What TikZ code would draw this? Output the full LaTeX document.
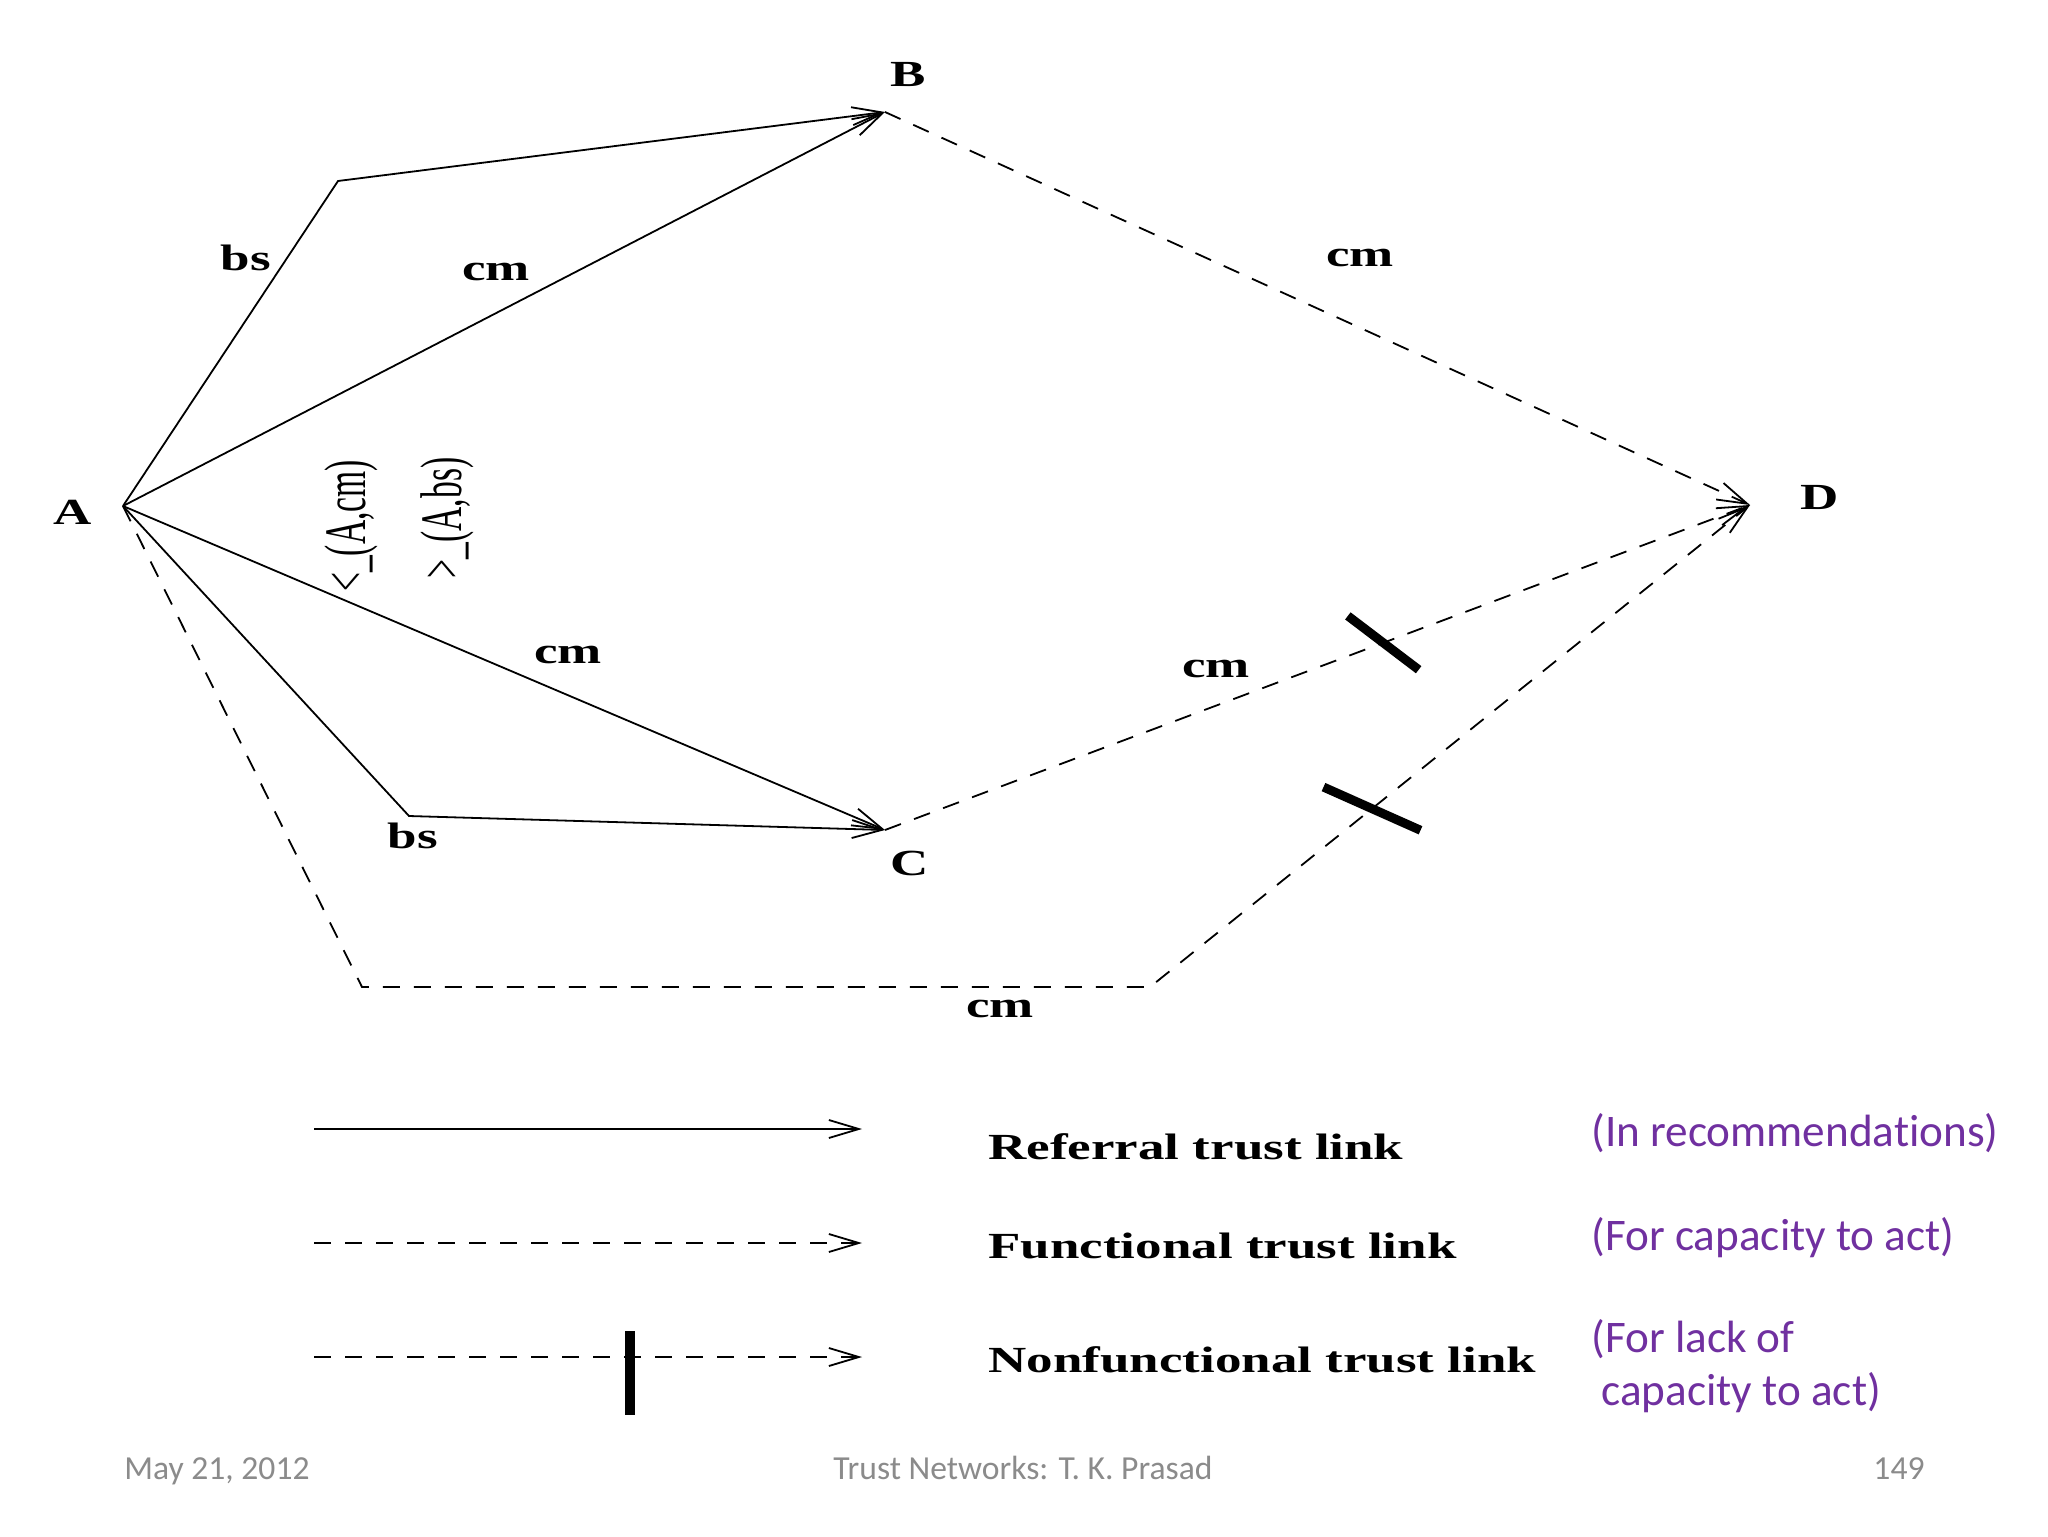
\documentclass[tikz,border=0pt]{standalone}
\usepackage{fontspec}
\setmainfont{Liberation Serif}
\newfontfamily\lblfont{Liberation Serif}[FakeStretch=1.44]
\newfontfamily\slidefont{Carlito}[Ligatures=NoCommon]
\usetikzlibrary{arrows.meta,calc}
\definecolor{slidepurple}{HTML}{7030A0}
\definecolor{footgray}{HTML}{8B8B8B}
\begin{document}
\begin{tikzpicture}[x=0.5pt,y=-0.5pt,
  link/.style={line width=0.9pt, -{Straight Barb[length=15pt,width=9pt]}},
  func/.style={link, dash pattern=on 8.5pt off 7pt},
  barseg/.style={line width=4.5pt},
  lbl/.style={inner sep=0pt, font=\lblfont\bfseries\fontsize{18.4}{21}\selectfont},
  rotlbl/.style={inner sep=0pt, rotate=90, font=\fontsize{16.8}{19}\selectfont},
  legtext/.style={inner sep=0pt, anchor=base west, font=\lblfont\bfseries\fontsize{18.4}{21}\selectfont},
  note/.style={inner sep=0pt, anchor=base west, text=slidepurple, font=\slidefont\fontsize{22.6}{26}\selectfont},
  foot/.style={inner sep=0pt, text=footgray, font=\slidefont\fontsize{16.8}{19}\selectfont},
]
\useasboundingbox (0,0) rectangle (2048,1536);
\fill[white] (0,0) rectangle (2048,1536);

% vertices
\coordinate (A) at (123,506);
\coordinate (B) at (885,112);
\coordinate (C) at (885,830);
\coordinate (D) at (1750,505);
\coordinate (p1) at (338,181);
\coordinate (p2) at (409,816);
\coordinate (p3) at (362,987);
\coordinate (p4) at (1150,987);

% vertex labels
\node[lbl] (lA) at (73,512) {A};
\node[lbl] (lB) at (908,75) {B};
\node[lbl] (lC) at (910,863) {C};
\node[lbl] (lD) at (1820,497) {D};

% referral links
\draw[link] (A) -- (p1) -- (B);
\draw[link] (A) -- (B);
\draw[link] (A) -- (C);
\draw[link] (A) -- (p2) -- (C);

% functional links
\draw[func] (B) -- (D);
\draw[func] (C) -- (D);
\draw[func] (A) -- (p3) -- (p4) -- (D);

% nonfunctional bars
\coordinate (m1) at ($(C)!0.576!(D)$);
\draw[barseg] ($(m1)+(-35.4,-26.9)$) -- ($(m1)+(35.4,26.9)$);
\coordinate (m2) at ($(p4)!0.37!(D)$);
\draw[barseg] ($(m2)+(-48.5,-21.6)$) -- ($(m2)+(48.5,21.6)$);

% edge labels
\node[lbl] (bs1) at (246,258) {bs};
\node[lbl] (cm1) at (496,272) {cm};
\node[lbl] (cm2) at (1360,258) {cm};
\node[lbl] (cm3) at (568,655) {cm};
\node[lbl] (cm4) at (1216,669) {cm};
\node[lbl] (bs2) at (413,836) {bs};
\node[lbl] (cm5) at (1000,1009) {cm};

% rotated order labels
\node[rotlbl] (ord1) at (351,526) {\scalebox{1}[1.75]{<\_(A,cm)}};
\node[rotlbl] (ord2) at (447,518) {\scalebox{1}[1.75]{>\_(A,bs)}};

% legend
\coordinate (r1) at (314,1129);
\coordinate (r2) at (862,1129);
\coordinate (f1) at (314,1243);
\coordinate (f2) at (862,1243);
\coordinate (n1) at (314,1357);
\coordinate (n2) at (862,1357);
\coordinate (nb1) at (630,1331);
\coordinate (nb2) at (630,1415);
\draw[link] (r1) -- (r2);
\draw[func] (f1) -- (f2);
\draw[func] (n1) -- (n2);
\draw[line width=5pt] (nb1) -- (nb2);

\node[legtext] (t1) at (988,1159) {Referral trust link};
\node[legtext] (t2) at (988,1258) {Functional trust link};
\node[legtext] (t3) at (988,1372) {Nonfunctional trust link};

\node[note] (u1) at (1591,1146) {(In recommendations)};
\node[note] (u2) at (1591,1250) {(For capacity to act)};
\node[note] (u3) at (1591,1352) {(For lack of};
\node[note] (u4) at (1601,1405) {capacity to act)};

% footer
\node[foot, anchor=base west] (ft1) at (124,1479) {May 21, 2012};
\node[foot, anchor=base] (ft2) at (1023,1479) {Trust Networks: T. K. Prasad};
\node[foot, anchor=base] (ft3) at (1899,1479) {149};
\end{tikzpicture}
\end{document}
